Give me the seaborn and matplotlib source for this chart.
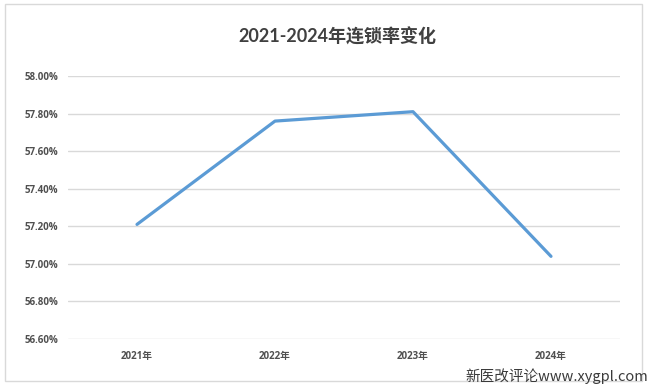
import matplotlib
matplotlib.use("Agg")
import matplotlib.pyplot as plt
import seaborn as sns
import pandas as pd
from matplotlib.patches import Rectangle

years = ["2021年", "2022年", "2023年", "2024年"]
rates = [57.21, 57.76, 57.81, 57.04]
y_ticks = [56.60, 56.80, 57.00, 57.20, 57.40, 57.60, 57.80, 58.00]
title = "2021-2024年连锁率变化"
watermark = "新医改评论www.xygpl.com"

sns.set_theme(style="white")
plt.rcParams['font.family'] = ['Lato', 'Noto Sans CJK SC', 'DejaVu Sans']

df = pd.DataFrame({"pos": range(len(years)), "rate": rates})

fig = plt.figure(figsize=(6.52, 3.85), dpi=100)
fig.patch.set_facecolor("white")
ax = fig.add_axes([68/652, 46/385, (620-68)/652, (339-76)/385])

sns.lineplot(data=df, x="pos", y="rate", ax=ax, color="#5B9BD5", linewidth=2.3)

tick_family = ['Open Sans', 'Noto Sans CJK SC', 'DejaVu Sans']
ax.set_ylim(56.60, 58.00)
ax.set_xlim(-0.5, len(years) - 0.5)
ax.set_yticks(y_ticks)
ax.set_yticklabels([f"{v:.2f}%" for v in y_ticks], fontweight="bold", family=tick_family)
ax.set_xticks(range(len(years)))
ax.set_xticklabels(years, fontweight="bold", family=tick_family)
ax.grid(axis="y", color="#D9D9D9", linewidth=1)
ax.set_axisbelow(True)
for s in ax.spines.values():
    s.set_visible(False)
ax.tick_params(axis="both", length=0, labelsize=7, colors="#505050")
ax.tick_params(axis="y", pad=7)
ax.tick_params(axis="x", pad=9)
ax.set_xlabel("")
ax.set_ylabel("")

fig.text(337/652, 1 - 36/385, title, ha="center", va="center", fontsize=13,
         fontweight="bold", color="#404040")

fig.patches.append(Rectangle((5/652, 4/385), 637/652, 377/385, transform=fig.transFigure,
                             fill=False, edgecolor="#D9D9D9", linewidth=1))

fig.text(648/652, 1 - 376/385, watermark, ha="right", va="center", fontsize=10.5,
         color="#3a3a3a", family=['Noto Sans CJK SC', 'DejaVu Sans'])

fig.savefig("out.png", dpi=100)
